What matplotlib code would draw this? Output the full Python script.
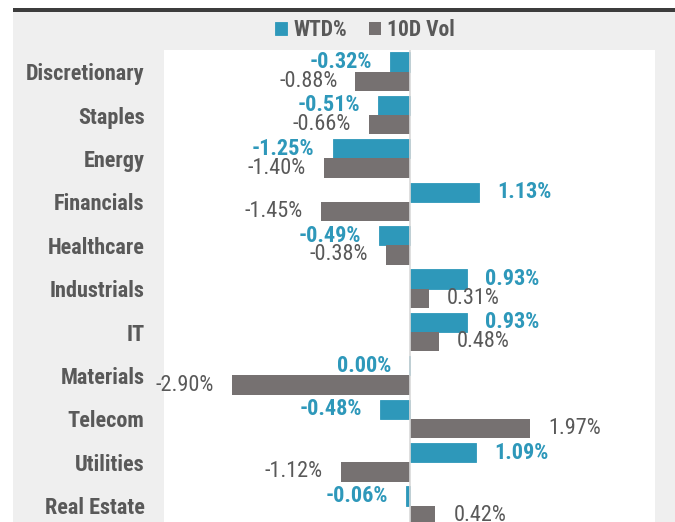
import matplotlib
matplotlib.use("Agg")
import matplotlib.pyplot as plt
from matplotlib import font_manager as fm
from matplotlib.patches import Rectangle
import numpy as np

# pick a narrow sans font if there is one (reference uses a condensed face)
fonts = fm.fontManager.ttflist
names = {f.name for f in fonts}
stretch = "normal"
if "Liberation Sans Narrow" in names:
    family = "Liberation Sans Narrow"
elif "Roboto Condensed" in names:
    family = "Roboto Condensed"
elif any(f.name == "DejaVu Sans" and f.stretch == "condensed" for f in fonts):
    family = "DejaVu Sans"
    stretch = "condensed"
else:
    family = "Lato"
plt.rcParams['font.family'] = [family, 'DejaVu Sans']
plt.rcParams['font.stretch'] = stretch

# data
sectors = ["Discretionary", "Staples", "Energy", "Financials", "Healthcare",
           "Industrials", "IT", "Materials", "Telecom", "Utilities", "Real Estate"]
wtd = [-0.32, -0.51, -1.25, 1.13, -0.49, 0.93, 0.93, -0.004, -0.48, 1.09, -0.06]
vol10d = [-0.88, -0.66, -1.40, -1.45, -0.38, 0.31, 0.48, -2.90, 1.97, -1.12, 0.42]

blue = "#2E98BA"
grey = "#767171"
text_grey = "#595959"


def fmt(v):
    s = f"{v:.2f}%"
    return "0.00%" if s == "-0.00%" else s


fig = plt.figure(figsize=(6.75, 5.22), dpi=100)
W, H = 675, 522

# chart area background and the dark rule on top
fig.patches.append(Rectangle((13 / W, 0), 1, (H - 12) / H, transform=fig.transFigure,
                             facecolor="#efefef", edgecolor="none", zorder=0))
fig.patches.append(Rectangle((13 / W, (H - 12) / H), 1, 4 / H, transform=fig.transFigure,
                             facecolor="#3c3c3c", edgecolor="none", zorder=0))

ax = fig.add_axes([164 / W, 0, (655 - 164) / W, (H - 50) / H])
ax.set_zorder(2)
ax.set_facecolor("white")

y = np.arange(len(sectors))
h = 0.445
b1 = ax.barh(y - h / 2, wtd, h, color=blue, label="WTD%", edgecolor=blue, linewidth=0.6)
b2 = ax.barh(y + h / 2, vol10d, h, color=grey, label="10D Vol")

for bars, vals, col, wt in [(b1, wtd, blue, "bold"), (b2, vol10d, text_grey, "normal")]:
    for rect, v in zip(bars, vals):
        yc = rect.get_y() + rect.get_height() / 2
        off = 13 if v >= 0 else -13
        ax.annotate(fmt(v), (v, yc), xytext=(off, 0), textcoords="offset points",
                    ha="left" if v >= 0 else "right", va="center",
                    fontsize=16, color=col, fontweight=wt, annotation_clip=False)

ax.axvline(0, color="#d9d9d9", lw=1.2, zorder=3)
ax.set_xlim(-4, 4)
ax.set_ylim(10.376, -0.5)
ax.set_yticks(y, sectors)
ax.tick_params(axis="y", length=0, pad=14, labelsize=16, labelcolor=text_grey)
for lbl in ax.get_yticklabels():
    lbl.set_fontweight("bold")
ax.set_xticks([])
for s in ax.spines.values():
    s.set_visible(False)

leg = fig.legend(handles=[b1, b2], loc="center", bbox_to_anchor=(365 / W, (H - 30) / H),
                 ncol=2, frameon=False, handlelength=0.55, handleheight=0.55,
                 handletextpad=0.3, columnspacing=1.0,
                 prop={"size": 15.5, "weight": "bold"})
for t in leg.get_texts():
    t.set_color(text_grey)

fig.savefig("out.png", dpi=100)
